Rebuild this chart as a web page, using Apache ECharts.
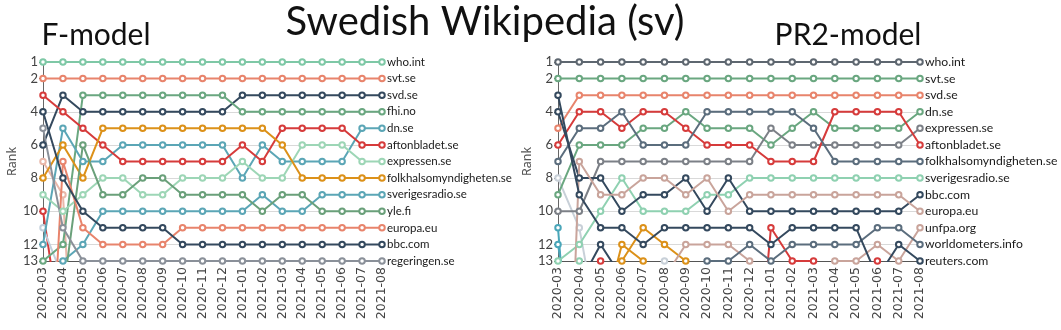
<!DOCTYPE html>
<html>
<head>
<meta charset="utf-8">
<script src="https://cdn.jsdelivr.net/npm/echarts@6/dist/echarts.min.js"></script>
<style>
  html, body { margin: 0; padding: 0; background: #fff; }
  #main { width: 1061px; height: 330px; }
</style>
</head>
<body>
<div id="main"></div>
<script>
// months on the x axis, ranks on the y axis
const months = ['2020-03', '2020-04', '2020-05', '2020-06', '2020-07', '2020-08', '2020-09',
  '2020-10', '2020-11', '2020-12', '2021-01', '2021-02', '2021-03', '2021-04', '2021-05',
  '2021-06', '2021-07', '2021-08'];
const rankTicks = [1, 2, 4, 6, 8, 10, 12, 13];
const _ = null;

// F-model ranks (values > 13 fall below the chart)
const fWho = [1, 1, 1, 1, 1, 1, 1, 1, 1, 1, 1, 1, 1, 1, 1, 1, 1, 1];
const fSvt = [2, 2, 2, 2, 2, 2, 2, 2, 2, 2, 2, 2, 2, 2, 2, 2, 2, 2];
const fSvd = [6, 3, 4, 4, 4, 4, 4, 4, 4, 4, 3, 3, 3, 3, 3, 3, 3, 3];
const fFhi = [13, 12, 3, 3, 3, 3, 3, 3, 3, 3, 4, 4, 4, 4, 4, 4, 4, 4];
const fDn = [12, 5, 7, 7, 6, 6, 6, 6, 6, 6, 8, 6, 7, 7, 7, 7, 5, 5];
const fAfton = [3, 4, 5, 6, 7, 7, 7, 7, 7, 7, 6, 7, 5, 5, 5, 5, 6, 6];
const fExpr = [9, 10, 9, 8, 8, 9, 9, 8, 8, 8, 7, 8, 8, 6, 6, 6, 7, 7];
const fFolk = [8, 6, 8, 5, 5, 5, 5, 5, 5, 5, 5, 5, 6, 8, 8, 8, 8, 8];
const fSverig = [20, 13, 12, 10, 10, 10, 10, 10, 10, 10, 10, 9, 10, 10, 9, 9, 9, 9];
const fYle = [20, 15, 6, 9, 9, 8, 8, 9, 9, 9, 9, 10, 9, 9, 10, 10, 10, 10];
const fEuropa = [29, 7, 11, 12, 12, 12, 12, 11, 11, 11, 11, 11, 11, 11, 11, 11, 11, 11];
const fBbc = [4, 8, 10, 11, 11, 11, 11, 12, 12, 12, 12, 12, 12, 12, 12, 12, 12, 12];
const fReg = [5, 11, 13, 13, 13, 13, 13, 13, 13, 13, 13, 13, 13, 13, 13, 13, 13, 13];
const fOtherPink = [7, 9, 30, _, _, _, _, _, _, _, _, _, _, _, _, _, _, _];
const fOtherRed = [10, 18, _, _, _, _, _, _, _, _, _, _, _, _, _, _, _, _];
const fOtherBlue = [11, 14, _, _, _, _, _, _, _, _, _, _, _, _, _, _, _, _];

// PR2-model ranks
const pWho = [1, 1, 1, 1, 1, 1, 1, 1, 1, 1, 1, 1, 1, 1, 1, 1, 1, 1];
const pSvt = [2, 2, 2, 2, 2, 2, 2, 2, 2, 2, 2, 2, 2, 2, 2, 2, 2, 2];
const pSvd = [5, 3, 3, 3, 3, 3, 3, 3, 3, 3, 3, 3, 3, 3, 3, 3, 3, 3];
const pDn = [9, 6, 6, 6, 5, 5, 4, 5, 5, 5, 6, 5, 4, 5, 5, 5, 5, 4];
const pExpr = [10, 10, 7, 7, 7, 7, 7, 7, 7, 7, 5, 6, 6, 6, 6, 6, 6, 5];
const pAfton = [6, 4, 4, 5, 4, 4, 5, 6, 6, 6, 7, 7, 7, 4, 4, 4, 4, 6];
const pFolk = [7, 5, 5, 4, 6, 6, 6, 4, 4, 4, 4, 4, 5, 7, 7, 7, 7, 7];
const pSverig = [13, 12, 10, 8, 10, 10, 10, 9, 9, 8, 8, 8, 8, 8, 8, 8, 8, 8];
const pBbc = [4, 8, 8, 10, 9, 9, 8, 10, 8, 10, 10, 10, 10, 10, 10, 10, 10, 9];
const pEuropa = [40, 7, 9, 9, 8, 8, 9, 8, 10, 9, 9, 9, 9, 9, 9, 9, 9, 10];
const pUnfpa = [_, _, _, _, _, 14, 12, 12, 12, 13, 14, 14, 14, 13, 13, 12, 13, 11];
const pWorld = [_, _, _, _, _, _, 16, 13, 13, 12, 13, 12, 12, 12, 12, 11, 11, 12];
const pReuters = [3, 9, 11, 11, 12, 11, 11, 11, 11, 11, 12, 11, 11, 11, 11, 14, 12, 13];
const pOtherOrangeA = [_, _, 16, 13, 11, 12, 13, 16, _, _, _, _, _, _, _, _, _, _];
const pOtherOrangeB = [_, _, 17, 12, 13, 17, _, _, _, _, _, _, _, _, _, _, _, _];
const pOtherDark = [_, 14.4, 12, 14, _, _, _, _, _, _, _, _, _, _, _, _, _, _];
const pOtherRed = [_, 20, 13, 20, _, _, _, _, _, 25, 11, 13, 13, 20, 20, 13, 20, _];
const pOtherGrey = [8, 11, 18, _, 18, 13, 18, _, _, _, _, _, _, _, _, _, _, _];
const pOtherTealA = [11, 27, _, _, _, _, _, _, _, _, _, _, _, _, _, _, _, _];
const pOtherTealB = [12, 20, _, _, _, _, _, _, _, _, _, _, _, _, _, _, _, _];
const pOtherGreen = [20, 13, 20, _, _, _, _, _, _, _, _, _, _, _, _, _, _, _];

const chart = echarts.init(document.getElementById('main'));
const labelFont = 'Lato';

function mk(name, data, color, idx, labelled) {
  return {
    name: name,
    type: 'line',
    xAxisIndex: idx,
    yAxisIndex: idx,
    data: data,
    symbol: 'emptyCircle',
    symbolSize: 5.5,
    showAllSymbol: true,
    lineStyle: { color: color, width: 2 },
    itemStyle: { color: color, borderWidth: 1.5 },
    endLabel: {
      show: labelled,
      formatter: name,
      color: '#1a1a1a',
      fontFamily: labelFont,
      fontSize: idx === 0 ? 11.5 : 12.2,
      distance: 5
    },
    emphasis: { disabled: true },
    z: labelled ? 3 : 2
  };
}

function yAxis(i) {
  return {
    gridIndex: i,
    type: 'value',
    inverse: true,
    min: 1,
    max: 13,
    interval: 1,
    name: 'Rank',
    nameLocation: 'middle',
    nameGap: i === 0 ? 24 : 23,
    nameTextStyle: { color: '#555', fontSize: 12.5, fontFamily: 'Noto Sans' },
    axisLine: { show: true, lineStyle: { color: '#666' } },
    axisTick: { show: true, customValues: rankTicks, length: 4, lineStyle: { color: '#666' } },
    axisLabel: { customValues: rankTicks, color: '#444', fontSize: 13, margin: 5, fontFamily: labelFont },
    splitLine: { show: true, lineStyle: { color: '#d9d9d9' } }
  };
}

function xAxis(i) {
  return {
    gridIndex: i,
    type: 'category',
    data: months,
    boundaryGap: false,
    axisLine: { onZero: false, lineStyle: { color: '#555' } },
    axisTick: { show: true, length: 3 },
    axisLabel: { rotate: 90, interval: 0, color: '#444', fontSize: 12.5, margin: 6, fontFamily: 'DejaVu Sans' }
  };
}

const option = {
  animation: false,
  backgroundColor: '#fff',
  graphic: [
    { type: 'text', x: 485, y: 22, style: { text: 'Swedish Wikipedia (sv)', font: '40px Lato', fill: '#111', textAlign: 'center', textVerticalAlign: 'middle' } },
    { type: 'text', x: 96, y: 35, style: { text: 'F-model', font: '30px Lato', fill: '#111', textAlign: 'center', textVerticalAlign: 'middle' } },
    { type: 'text', x: 848, y: 35, style: { text: 'PR2-model', font: '30px Lato', fill: '#111', textAlign: 'center', textVerticalAlign: 'middle' } }
  ],
  grid: [
    { left: 43, top: 62, width: 339, height: 199 },
    { left: 558, top: 62, width: 362, height: 199 }
  ],
  xAxis: [xAxis(0), xAxis(1)],
  yAxis: [yAxis(0), yAxis(1)],
  series: [
    mk('other-pink', fOtherPink, '#e9b7a9', 0, false),
    mk('other-red', fOtherRed, '#d63b3b', 0, false),
    mk('other-blue', fOtherBlue, '#c3d0dc', 0, false),
    mk('who.int', fWho, '#7ec8a6', 0, true),
    mk('svt.se', fSvt, '#e8846c', 0, true),
    mk('svd.se', fSvd, '#34495e', 0, true),
    mk('fhi.no', fFhi, '#6aa780', 0, true),
    mk('dn.se', fDn, '#5ba6b6', 0, true),
    mk('aftonbladet.se', fAfton, '#d63b3b', 0, true),
    mk('expressen.se', fExpr, '#9dd6b6', 0, true),
    mk('folkhalsomyndigheten.se', fFolk, '#dc9119', 0, true),
    mk('sverigesradio.se', fSverig, '#5ba6b6', 0, true),
    mk('yle.fi', fYle, '#6aa07a', 0, true),
    mk('europa.eu', fEuropa, '#e8846c', 0, true),
    mk('bbc.com', fBbc, '#34495e', 0, true),
    mk('regeringen.se', fReg, '#8a9099', 0, true),

    mk('other-orange-a', pOtherOrangeA, '#dc9119', 1, false),
    mk('other-orange-b', pOtherOrangeB, '#dc9119', 1, false),
    mk('other-dark', pOtherDark, '#34495e', 1, false),
    mk('other-red', pOtherRed, '#d63b3b', 1, false),
    mk('other-grey', pOtherGrey, '#c8d0d8', 1, false),
    mk('other-teal-a', pOtherTealA, '#4aa6b9', 1, false),
    mk('other-teal-b', pOtherTealB, '#4aa6b9', 1, false),
    mk('other-green', pOtherGreen, '#8fd1b1', 1, false),
    mk('who.int', pWho, '#5e6770', 1, true),
    mk('svt.se', pSvt, '#6aa780', 1, true),
    mk('svd.se', pSvd, '#e8846c', 1, true),
    mk('dn.se', pDn, '#6aa780', 1, true),
    mk('expressen.se', pExpr, '#7c8087', 1, true),
    mk('aftonbladet.se', pAfton, '#d63b3b', 1, true),
    mk('folkhalsomyndigheten.se', pFolk, '#5b6d7d', 1, true),
    mk('sverigesradio.se', pSverig, '#8fd1b1', 1, true),
    mk('bbc.com', pBbc, '#34495e', 1, true),
    mk('europa.eu', pEuropa, '#c9a49b', 1, true),
    mk('unfpa.org', pUnfpa, '#c9a49b', 1, true),
    mk('worldometers.info', pWorld, '#5b6d7d', 1, true),
    mk('reuters.com', pReuters, '#34495e', 1, true)
  ]
};

chart.setOption(option);
</script>
</body>
</html>
